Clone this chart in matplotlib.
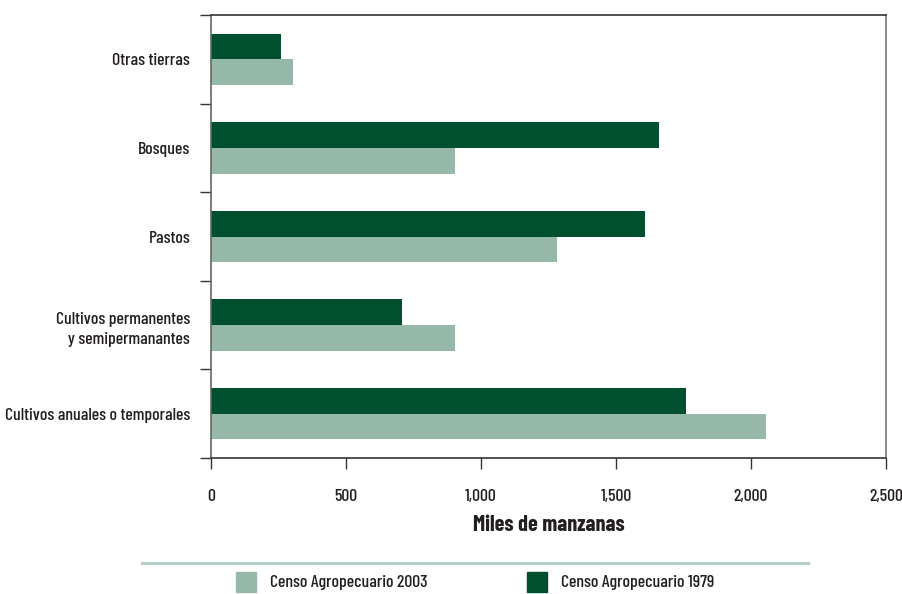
import matplotlib
matplotlib.use("Agg")
import matplotlib.pyplot as plt
from matplotlib import font_manager
from matplotlib.patches import Rectangle
from matplotlib.lines import Line2D
import numpy as np

# narrow humanist-ish face if available, else DejaVu
names = {f.name for f in font_manager.fontManager.ttflist}
FONT = next((n for n in ['Barlow Condensed', 'Archivo Narrow', 'Asap Condensed'] if n in names),
            'DejaVu Sans')
plt.rcParams['font.family'] = [FONT, 'DejaVu Sans']

# ==============================================================================
# DATA (miles de manzanas)
# ==============================================================================
categories = ['Cultivos anuales o temporales',
              'Cultivos permanentes\ny semipermanantes',
              'Pastos', 'Bosques', 'Otras tierras']
censo_2003 = [2055, 905, 1280, 905, 303]
censo_1979 = [1758, 706, 1606, 1658, 259]
series_labels = ['Censo Agropecuario 2003', 'Censo Agropecuario 1979']
xticks = [0, 500, 1000, 1500, 2000, 2500]

DARK = '#00502f'
LIGHT = '#95b8a8'
AXC = '#333333'
TXT = '#231f20'
FS = 12.8

# ==============================================================================
# PLOT
# ==============================================================================
fig = plt.figure(figsize=(9.03, 5.94), dpi=100)
ax = fig.add_axes([0.2337, 0.229, 0.9812 - 0.2337, 0.9747 - 0.229])

y = np.arange(len(categories))
h = 0.29
ax.barh(y - h / 2, censo_2003, height=h, color=LIGHT, label=series_labels[0])
ax.barh(y + h / 2, censo_1979, height=h, color=DARK, label=series_labels[1])

ax.set_xlim(0, 2500)
ax.set_ylim(-0.5, len(categories) - 0.5)

ax.set_xticks(xticks)
ax.set_xticklabels([f"{v:,}" for v in xticks], fontsize=FS, color=TXT, fontweight='medium')
ax.tick_params(axis='x', direction='out', length=8, width=1, color=AXC, pad=14)

# category names in the middle, tick marks on the boundaries
ax.set_yticks(y)
ax.set_yticklabels(categories, fontsize=FS, color=TXT, ha='right', linespacing=1.45,
                   fontweight='medium')
ax.tick_params(axis='y', which='major', length=0, pad=15)
ax.set_yticks(np.arange(-0.5, len(categories)), minor=True)
ax.tick_params(axis='y', which='minor', direction='out', length=8, width=1, color=AXC)

for side in ['top', 'right', 'bottom']:
    ax.spines[side].set_color(AXC)
    ax.spines[side].set_linewidth(1.2)
ax.spines['right'].set_color('#777777')
ax.spines['left'].set_color('#666666')
ax.spines['left'].set_linewidth(1.2)

ax.set_xlabel('Miles de manzanas', fontsize=16, fontweight='bold', color=TXT, labelpad=8)

# legend: rule line above two swatches
fig.add_artist(Line2D([142 / 903, 808 / 903], [1 - 563 / 594] * 2, color='#b5cfc4', lw=2.2))
for x0, col, lab in [(236, LIGHT, series_labels[0]), (527, DARK, series_labels[1])]:
    fig.add_artist(Rectangle((x0 / 903, 1 - 592 / 594), 20 / 903, 20 / 594, color=col,
                             transform=fig.transFigure))
    fig.text((x0 + 34) / 903, 1 - 582 / 594, lab, fontsize=FS, va='center', color=TXT,
             fontweight='medium')

plt.savefig('out.png', dpi=100)
